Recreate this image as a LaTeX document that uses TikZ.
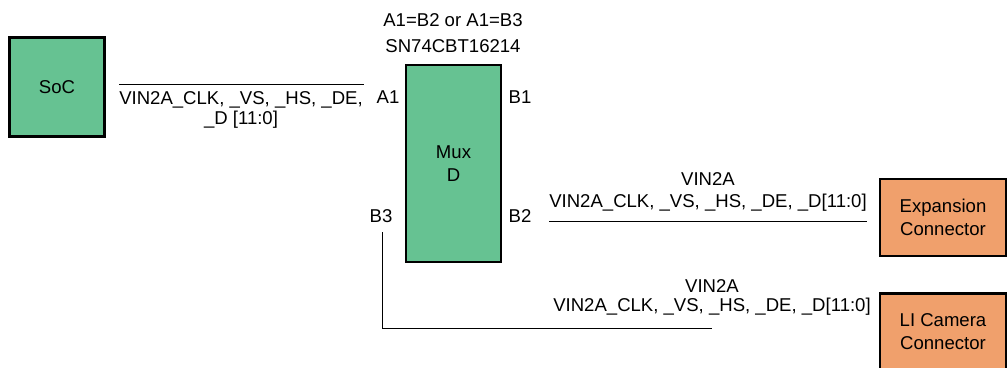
\documentclass[tikz,border=0pt]{standalone}
\usepackage{fontspec}
\setmainfont{Liberation Sans}
\definecolor{muxgreen}{RGB}{102,194,146}
\definecolor{connorange}{RGB}{240,160,108}

\tikzset{
    block/.style = {draw=black, line width=1.6pt, fill=muxgreen, inner sep=0pt,
                    align=center, font=\fontsize{13.2}{16.4}\selectfont},
    connbox/.style = {block, fill=connorange, minimum width=3.15cm, minimum height=1.925cm},
    sig/.style = {align=center, inner sep=0pt, font=\fontsize{13.2}{14.2}\selectfont},
    pin/.style = {inner sep=0pt, font=\fontsize{13.2}{14}\selectfont},
    bus/.style = {line width=0.7pt}
}

\begin{document}
\begin{tikzpicture}[x=0.025cm, y=-0.025cm]
    \useasboundingbox (0,0) rectangle (1008,368);
    \clip (0,0) rectangle (1008,368);

%Blocks

    \node[block, minimum width=2.375cm, minimum height=2.475cm] (soc) at (57,87) {SoC};

    \node[block, minimum width=2.375cm, minimum height=4.925cm] (mux) at (453.5,163.5) {Mux\\D};

    \node[connbox] (exp) at (943,217.5) {Expansion\\Connector};

    \node[connbox] (cam) at (943,332) {LI Camera\\Connector};

% Mux labels

    \node[pin] (sel) at (453,20) {A1=B2 or A1=B3};
    \node[pin] (part) at (453,46) {SN74CBT16214};

    \node[pin] (a1) at (388,97) {A1};
    \node[pin] (b1) at (520,97) {B1};
    \node[pin] (b3) at (381,216) {B3};
    \node[pin] (b2) at (520,216) {B2};

%Bus lines

    \coordinate (socbusL) at (119,84);
    \coordinate (socbusR) at (364,84);
    \draw[bus] (socbusL) -- (socbusR);
    \node[sig] (socsig) at (241,110) {VIN2A\_CLK, \_VS, \_HS, \_DE,\\\_D [11:0]};

    \coordinate (expbusL) at (549,221);
    \coordinate (expbusR) at (867,221);
    \draw[bus] (expbusL) -- (expbusR);
    \node[sig] (expname) at (708,179) {VIN2A};
    \node[sig] (expsig) at (708,203) {VIN2A\_CLK, \_VS, \_HS, \_DE, \_D[11:0]};

    \coordinate (cambusT) at (382,232);
    \coordinate (cambusC) at (382,328);
    \coordinate (cambusR) at (712,328);
    \draw[bus] (cambusT) -- (cambusC) -- (cambusR);
    \node[sig] (camname) at (712,286) {VIN2A};
    \node[sig] (camsig) at (712,307) {VIN2A\_CLK, \_VS, \_HS, \_DE, \_D[11:0]};

\end{tikzpicture}
\end{document}
